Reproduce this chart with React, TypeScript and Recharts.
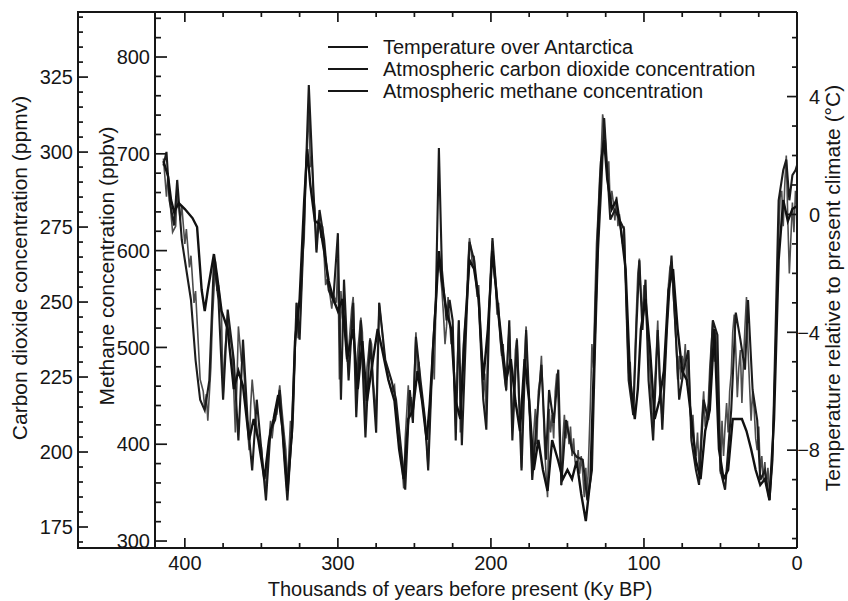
import React from "react";
import { LineChart, Line, XAxis, YAxis, Legend } from "recharts";

const INK = "#161616";
const FONT = "'Liberation Sans', Arial, Helvetica, sans-serif";

// Vostok ice core record: [age (ky BP), value]
const temperature: [number, number][] = [
  [414, 1.9], [412, 0.6], [411, 1.4], [409, 0.0], [408, -0.6], [406, -0.4], [405, 0.8], [403, -0.2],
  [402, 0.3], [400, -1.0], [399, -0.5], [397, -1.8], [396, -1.4], [394, -3.0], [393, -2.6], [391, -4.6],
  [390, -5.6], [388, -6.0], [387, -6.6], [386, -6.1], [385, -7.0], [383, -5.2], [382, -3.6], [380, -1.6],
  [379, -2.6], [378, -2.4], [376, -3.5], [375, -6.2], [374, -4.8], [372, -3.4], [371, -4.0], [369, -4.6],
  [367, -7.4], [366, -5.8], [365, -3.8], [363, -5.0], [362, -4.8], [360, -6.5], [358, -8.0], [357, -6.5],
  [356, -5.6], [354, -6.8], [352, -7.6], [350, -7.9], [349, -8.5], [347, -9.4], [346, -8.4], [344, -7.0],
  [343, -7.6], [341, -6.6], [340, -6.8], [338, -5.8], [337, -6.4], [335, -7.5], [334, -8.0], [333, -9.2],
  [331, -7.0], [330, -7.6], [329, -6.6], [327, -3.0], [326, -4.2], [325, -4.0], [323, -1.4], [322, -0.8],
  [321, 1.2], [320, 2.2], [319, 3.8], [318, 1.6], [317, 2.0], [316, 0.6], [315, 0.2], [314, -1.2],
  [313, -0.2], [312, -0.2], [311, -0.8], [310, -0.4], [308, -2.4], [307, -2.2], [305, -2.8], [304, -3.2],
  [303, -2.7], [301, -3.0], [300, -1.5], [299, -5.6], [298, -2.6], [297, -3.5], [295, -4.2], [294, -5.0],
  [293, -4.6], [291, -3.2], [290, -2.8], [289, -4.5], [288, -6.2], [287, -4.6], [285, -3.5], [284, -4.0],
  [283, -5.6], [282, -6.8], [281, -5.2], [279, -4.2], [278, -4.4], [277, -5.6], [275, -6.8], [274, -4.6],
  [273, -3.0], [271, -4.0], [270, -4.6], [269, -5.0], [267, -5.6], [265, -6.0], [263, -5.8], [262, -6.5],
  [261, -7.4], [259, -8.2], [258, -8.6], [257, -9.3], [256, -7.6], [254, -5.8], [253, -6.8], [252, -6.2],
  [251, -7.0], [250, -5.4], [249, -4.0], [248, -5.4], [247, -5.0], [246, -6.0], [244, -6.6], [243, -7.2],
  [242, -7.8], [241, -8.6], [240, -7.0], [238, -4.8], [237, -5.6], [236, -3.2], [235, -2.0], [234, -1.6],
  [233, -2.0], [232, -2.6], [231, -3.4], [230, -4.4], [229, -3.8], [228, -2.8], [227, -3.6], [226, -4.4],
  [225, -3.8], [224, -5.6], [223, -7.2], [222, -5.2], [221, -3.6], [220, -7.4], [219, -5.6], [218, -4.4],
  [217, -3.8], [216, -3.2], [215, -1.6], [214, -0.8], [213, -1.2], [212, -1.8], [211, -1.4], [210, -2.2],
  [209, -2.8], [208, -2.4], [207, -3.6], [206, -5.0], [205, -6.2], [204, -5.4], [203, -6.8], [202, -4.2],
  [201, -3.0], [200, -1.6], [199, -0.9], [198, -2.0], [197, -2.4], [196, -3.4], [195, -3.0], [194, -4.2],
  [193, -4.8], [192, -4.4], [191, -5.6], [190, -6.0], [189, -4.6], [188, -3.8], [187, -5.6], [186, -7.2],
  [185, -5.8], [184, -4.6], [183, -4.2], [182, -5.4], [181, -6.8], [180, -8.6], [179, -6.4], [178, -4.8],
  [177, -3.8], [176, -5.4], [175, -6.4], [174, -7.6], [173, -8.8], [172, -7.4], [171, -6.6], [170, -7.8],
  [169, -6.0], [168, -5.6], [167, -4.8], [166, -6.2], [165, -7.8], [164, -8.8], [163, -9.6], [162, -6.6],
  [161, -7.4], [160, -6.8], [159, -7.6], [158, -6.0], [157, -5.4], [156, -6.4], [155, -8.0], [154, -9.2],
  [153, -7.6], [152, -6.8], [151, -7.6], [150, -7.0], [149, -7.8], [148, -7.2], [147, -8.2], [146, -7.6],
  [145, -8.4], [144, -8.6], [143, -8.0], [142, -8.8], [141, -8.2], [140, -8.8], [139, -9.6], [138, -8.6],
  [137, -9.6], [136, -8.0], [135, -6.4], [134, -4.4], [133, -5.2], [132, -2.8], [131, -1.0], [130, 0.0],
  [129, 1.2], [128, 2.0], [127, 3.4], [126, 3.0], [125, 2.4], [124, 1.2], [123, 1.8], [122, 0.2],
  [121, 0.8], [120, 0.4], [119, -0.2], [118, 0.6], [117, -0.4], [116, 0.0], [115, -0.6], [114, -1.0],
  [113, -0.4], [112, -2.2], [111, -4.0], [110, -5.4], [109, -5.0], [108, -6.2], [107, -6.8], [106, -5.0],
  [105, -3.4], [104, -2.0], [103, -1.5], [102, -2.8], [101, -3.4], [100, -2.4], [99, -2.6], [98, -4.0],
  [97, -4.6], [96, -5.4], [95, -6.4], [94, -7.4], [93, -5.8], [92, -4.8], [91, -3.6], [90, -5.6],
  [89, -6.4], [88, -7.0], [87, -5.8], [86, -4.8], [85, -3.8], [84, -2.4], [83, -1.8], [82, -1.6],
  [81, -2.6], [80, -3.4], [79, -4.4], [78, -5.6], [77, -4.8], [76, -5.6], [75, -4.8], [74, -5.2],
  [73, -4.4], [72, -5.8], [71, -4.6], [70, -6.2], [69, -7.6], [68, -6.8], [67, -7.8], [66, -8.2],
  [65, -7.4], [64, -8.6], [63, -7.8], [62, -6.8], [61, -6.0], [60, -7.2], [59, -6.8], [58, -6.4],
  [57, -5.2], [56, -4.4], [55, -3.6], [54, -5.0], [53, -4.0], [52, -5.8], [51, -7.2], [50, -8.8],
  [49, -7.0], [48, -8.2], [47, -7.2], [46, -6.4], [45, -7.4], [44, -6.0], [43, -5.4], [42, -4.0],
  [41, -3.4], [40, -4.6], [39, -6.2], [38, -5.2], [37, -4.6], [36, -6.4], [35, -5.0], [34, -3.8],
  [33, -2.8], [32, -4.6], [31, -5.8], [30, -7.0], [29, -6.0], [28, -6.6], [27, -7.6], [26, -8.0],
  [25, -7.2], [24, -8.8], [23, -8.2], [22, -9.0], [21, -8.4], [20, -9.2], [19, -8.6], [18, -9.4],
  [17, -9.0], [16, -8.0], [15, -6.2], [14, -4.4], [13, -2.4], [12, -0.8], [11, 0.6], [10, 0.8],
  [9, -0.4], [8, 1.0], [7, 2.0], [6, -0.2], [5, -2.0], [4, -0.8], [3, 0.4], [2, -0.6], [1, 0.8], [0, 0.2],
];

const co2: [number, number][] = [
  [414, 297], [411, 292], [409, 284], [407, 280], [404, 283], [400, 281], [395, 278], [392, 275],
  [389, 254], [387, 247], [385, 254], [381, 266], [379, 259], [376, 247], [372, 241], [368, 221],
  [365, 227], [362, 222], [358, 204], [355, 211], [352, 204], [348, 191], [345, 204], [342, 211],
  [339, 219], [336, 207], [333, 187], [330, 207], [328, 237], [325, 251], [322, 284], [320, 301],
  [318, 289], [315, 277], [312, 276], [309, 267], [306, 257], [303, 251], [300, 247], [297, 251],
  [294, 231], [290, 241], [287, 221], [284, 237], [281, 217], [277, 231], [274, 241], [271, 234],
  [267, 224], [263, 217], [260, 201], [257, 191], [254, 211], [251, 214], [248, 227], [245, 217],
  [242, 204], [240, 216], [237, 241], [234, 267], [232, 257], [229, 247], [226, 241], [223, 217],
  [220, 211], [217, 241], [214, 264], [211, 261], [208, 251], [205, 224], [202, 241], [199, 267],
  [196, 251], [193, 237], [190, 224], [187, 231], [184, 217], [181, 207], [178, 231], [175, 217],
  [172, 194], [169, 204], [166, 194], [163, 187], [160, 204], [156, 197], [153, 191], [150, 194],
  [147, 191], [144, 197], [141, 186], [138, 177], [135, 191], [132, 241], [130, 274], [128, 297],
  [126, 304], [124, 291], [121, 281], [118, 284], [115, 274], [112, 261], [109, 224], [106, 211],
  [104, 221], [102, 241], [99, 251], [96, 234], [93, 211], [90, 217], [87, 227], [84, 254],
  [81, 261], [78, 241], [75, 227], [72, 224], [69, 211], [66, 197], [63, 191], [60, 207],
  [57, 214], [54, 241], [51, 201], [48, 191], [45, 194], [42, 211], [39, 211], [36, 211],
  [33, 207], [30, 201], [27, 194], [24, 189], [21, 191], [18, 184], [15, 211], [12, 264],
  [9, 284], [6, 277], [3, 281], [0, 282],
];

const methane: [number, number][] = [
  [414, 688], [412, 702], [410, 652], [407, 626], [405, 673], [402, 611], [399, 580], [396, 549],
  [393, 487], [390, 446], [387, 435], [384, 466], [381, 590], [378, 549], [375, 446], [372, 539],
  [368, 487], [365, 404], [362, 508], [359, 425], [356, 373], [353, 446], [350, 394], [347, 342],
  [344, 415], [341, 425], [338, 456], [335, 384], [333, 342], [330, 415], [327, 546], [325, 508],
  [322, 632], [319, 771], [316, 663], [314, 598], [312, 642], [309, 611], [306, 559], [303, 549],
  [300, 618], [298, 446], [296, 570], [293, 466], [290, 546], [288, 428], [285, 528], [282, 407],
  [279, 508], [275, 412], [273, 546], [269, 487], [265, 466], [262, 446], [258, 384], [256, 353],
  [253, 456], [251, 422], [249, 511], [246, 466], [243, 425], [241, 373], [238, 497], [236, 549],
  [234, 706], [232, 580], [229, 528], [227, 549], [225, 528], [223, 404], [221, 528], [219, 399],
  [216, 528], [214, 609], [211, 590], [208, 549], [205, 446], [203, 415], [201, 539], [199, 613],
  [196, 549], [193, 497], [190, 456], [188, 528], [186, 404], [183, 508], [180, 373], [177, 518],
  [175, 446], [173, 363], [170, 425], [167, 482], [164, 384], [162, 456], [159, 422], [156, 477],
  [154, 358], [151, 425], [147, 394], [144, 387], [140, 384], [137, 342], [134, 373], [132, 497],
  [130, 601], [128, 663], [126, 737], [124, 683], [122, 632], [119, 642], [116, 632], [113, 622],
  [110, 466], [107, 430], [105, 518], [103, 590], [101, 518], [99, 570], [97, 466], [94, 404],
  [91, 518], [88, 415], [85, 518], [82, 595], [79, 508], [77, 446], [74, 477], [71, 497],
  [69, 404], [66, 373], [64, 358], [61, 446], [58, 425], [55, 528], [52, 513], [50, 373],
  [47, 353], [43, 435], [40, 536], [37, 508], [34, 477], [32, 549], [29, 456], [26, 425],
  [24, 363], [21, 373], [18, 342], [16, 384], [14, 518], [12, 652], [9, 683], [7, 694],
  [5, 652], [3, 678], [1, 683], [0, 688],
];

const seriesNames = [
  "Temperature over Antarctica",
  "Atmospheric carbon dioxide concentration",
  "Atmospheric methane concentration",
];

const ageTicks = [0, 25, 50, 75, 100, 125, 150, 175, 200, 225, 250, 275, 300, 325, 350, 375, 400];
const co2Ticks = [
  170, 175, 180, 185, 190, 195, 200, 205, 210, 215, 220, 225, 230, 235, 240, 245, 250, 255,
  260, 265, 270, 275, 280, 285, 290, 295, 300, 305, 310, 315, 320, 325, 330, 335, 340, 345,
];
const ch4Ticks = [
  300, 320, 340, 360, 380, 400, 420, 440, 460, 480, 500, 520, 540, 560, 580, 600, 620, 640,
  660, 680, 700, 720, 740, 760, 780, 800, 820, 840,
];
const tempTicks = [-11, -10, -9, -8, -7, -6, -5, -4, -3, -2, -1, 0, 1, 2, 3, 4, 5, 6];

const toRows = (pts: [number, number][]) => pts.map(([age, v]) => ({ age, v }));

const fmt = (v: number) => (v < 0 ? `\u2212${Math.abs(v)}` : `${v}`);
const isMajor = (v: number, step: number) => Math.abs(v % step) < 1e-6;

const textStyle = { fontFamily: FONT, fontSize: 20, fill: INK };
const titleStyle = { fontFamily: FONT, fontSize: 21, fill: INK, textAnchor: "middle" as const };

type TickProps = { x?: number; y?: number; payload?: { value: number } };

const leftTick = (step: number, len: number) => ({ x = 0, y = 0, payload }: TickProps) => {
  const v = payload?.value ?? 0;
  const major = isMajor(v, step);
  return (
    <g>
      <line x1={x} x2={x + (major ? len : len / 2)} y1={y} y2={y} stroke={INK} strokeWidth={1.7} />
      {major && (
        <text x={x - 5} y={y} dy="0.36em" textAnchor="end" {...textStyle}>
          {fmt(v)}
        </text>
      )}
    </g>
  );
};

const rightTick = (step: number, len: number) => ({ x = 0, y = 0, payload }: TickProps) => {
  const v = payload?.value ?? 0;
  const major = isMajor(v, step);
  return (
    <g>
      <line x1={x} x2={x - (major ? len : len / 2)} y1={y} y2={y} stroke={INK} strokeWidth={1.7} />
      {major && (
        <text x={x + 23} y={y} dy="0.36em" textAnchor="end" {...textStyle}>
          {fmt(v)}
        </text>
      )}
    </g>
  );
};

const bottomTick = ({ x = 0, y = 0, payload }: TickProps) => {
  const v = payload?.value ?? 0;
  const major = isMajor(v, 100);
  return (
    <g>
      <line x1={x} x2={x} y1={y} y2={y - (major ? 10 : 5)} stroke={INK} strokeWidth={1.7} />
      {major && (
        <text x={x} y={y + 22} textAnchor="middle" {...textStyle}>
          {fmt(v)}
        </text>
      )}
    </g>
  );
};

const topTick = ({ x = 0, y = 0, payload }: TickProps) => {
  const v = payload?.value ?? 0;
  const major = isMajor(v, 100);
  return <line x1={x} x2={x} y1={y} y2={y + (major ? 10 : 5)} stroke={INK} strokeWidth={1.7} />;
};

const renderLegend = () => (
  <div style={{ fontFamily: FONT, fontSize: 20, color: INK, whiteSpace: "nowrap" }}>
    {seriesNames.map((name) => (
      <div key={name} style={{ display: "flex", alignItems: "center", height: 22 }}>
        <span style={{ display: "inline-block", width: 40, height: 2, background: INK, marginRight: 15 }} />
        <span>{name}</span>
      </div>
    ))}
  </div>
);

const axisLine = { stroke: INK, strokeWidth: 2 };

export default function App() {
  return (
    <div style={{ position: "absolute", left: 0, top: 0, width: 848, height: 601, background: "#fff" }}>
      <LineChart width={848} height={601} margin={{ top: 0, right: 0, bottom: 0, left: 0 }}>
        <XAxis
          xAxisId="bottom"
          dataKey="age"
          type="number"
          domain={[0, 419.5]}
          reversed
          allowDataOverflow
          ticks={ageTicks}
          interval={0}
          height={53}
          tickSize={0}
          tickMargin={0}
          tick={bottomTick}
          tickLine={false}
          axisLine={axisLine}
          label={{
            value: "Thousands of years before present (Ky BP)",
            position: "insideBottom",
            offset: 5,
            dx: -16,
            style: { ...textStyle },
          }}
        />
        <XAxis
          xAxisId="top"
          orientation="top"
          dataKey="age"
          type="number"
          domain={[0, 419.5]}
          reversed
          allowDataOverflow
          ticks={ageTicks}
          interval={0}
          height={12}
          tickSize={0}
          tickMargin={0}
          tick={topTick}
          tickLine={false}
          axisLine={axisLine}
        />
        <YAxis
          yAxisId="ch4"
          orientation="left"
          type="number"
          domain={[292.8, 846.5]}
          allowDataOverflow
          ticks={ch4Ticks}
          interval={0}
          width={77}
          tickSize={0}
          tickMargin={0}
          tick={leftTick(100, 12)}
          tickLine={false}
          axisLine={axisLine}
          label={{
            value: "Methane concentration (ppbv)",
            angle: -90,
            position: "insideLeft",
            offset: 29,
            dy: -14,
            style: titleStyle,
          }}
        />
        <YAxis
          yAxisId="co2"
          orientation="left"
          type="number"
          domain={[168, 346.7]}
          allowDataOverflow
          ticks={co2Ticks}
          interval={0}
          width={78}
          tickSize={0}
          tickMargin={0}
          tick={leftTick(25, 10)}
          tickLine={false}
          axisLine={axisLine}
          label={{
            value: "Carbon dioxide concentration (ppmv)",
            angle: -90,
            position: "insideLeft",
            offset: 20,
            dy: -12,
            style: titleStyle,
          }}
        />
        <YAxis
          yAxisId="temp"
          orientation="right"
          type="number"
          domain={[-11.32, 6.87]}
          allowDataOverflow
          ticks={tempTicks}
          interval={0}
          width={51}
          tickSize={0}
          tickMargin={0}
          tick={rightTick(4, 10)}
          tickLine={false}
          axisLine={axisLine}
          label={{
            value: "Temperature relative to present climate (\u00B0C)",
            angle: -90,
            position: "insideRight",
            offset: 15,
            dy: 8,
            style: titleStyle,
          }}
        />
        <Legend
          layout="vertical"
          align="center"
          verticalAlign="middle"
          content={renderLegend}
          wrapperStyle={{ left: 328, top: 36, width: 470 }}
        />
        <Line
          name={seriesNames[0]}
          data={toRows(temperature)}
          xAxisId="bottom"
          yAxisId="temp"
          dataKey="v"
          type="linear"
          stroke="#4d4d4d"
          strokeWidth={1.6}
          dot={false}
          isAnimationActive={false}
        />
        <Line
          name={seriesNames[2]}
          data={toRows(methane)}
          xAxisId="bottom"
          yAxisId="ch4"
          dataKey="v"
          type="linear"
          stroke="#1c1c1c"
          strokeWidth={2.1}
          dot={false}
          isAnimationActive={false}
        />
        <Line
          name={seriesNames[1]}
          data={toRows(co2)}
          xAxisId="bottom"
          yAxisId="co2"
          dataKey="v"
          type="linear"
          stroke="#111"
          strokeWidth={2.4}
          dot={false}
          isAnimationActive={false}
        />
      </LineChart>
      <div style={{ position: "absolute", left: 77, top: 11, width: 79, height: 2, background: INK }} />
      <div style={{ position: "absolute", left: 77, top: 547, width: 79, height: 2, background: INK }} />
    </div>
  );
}
